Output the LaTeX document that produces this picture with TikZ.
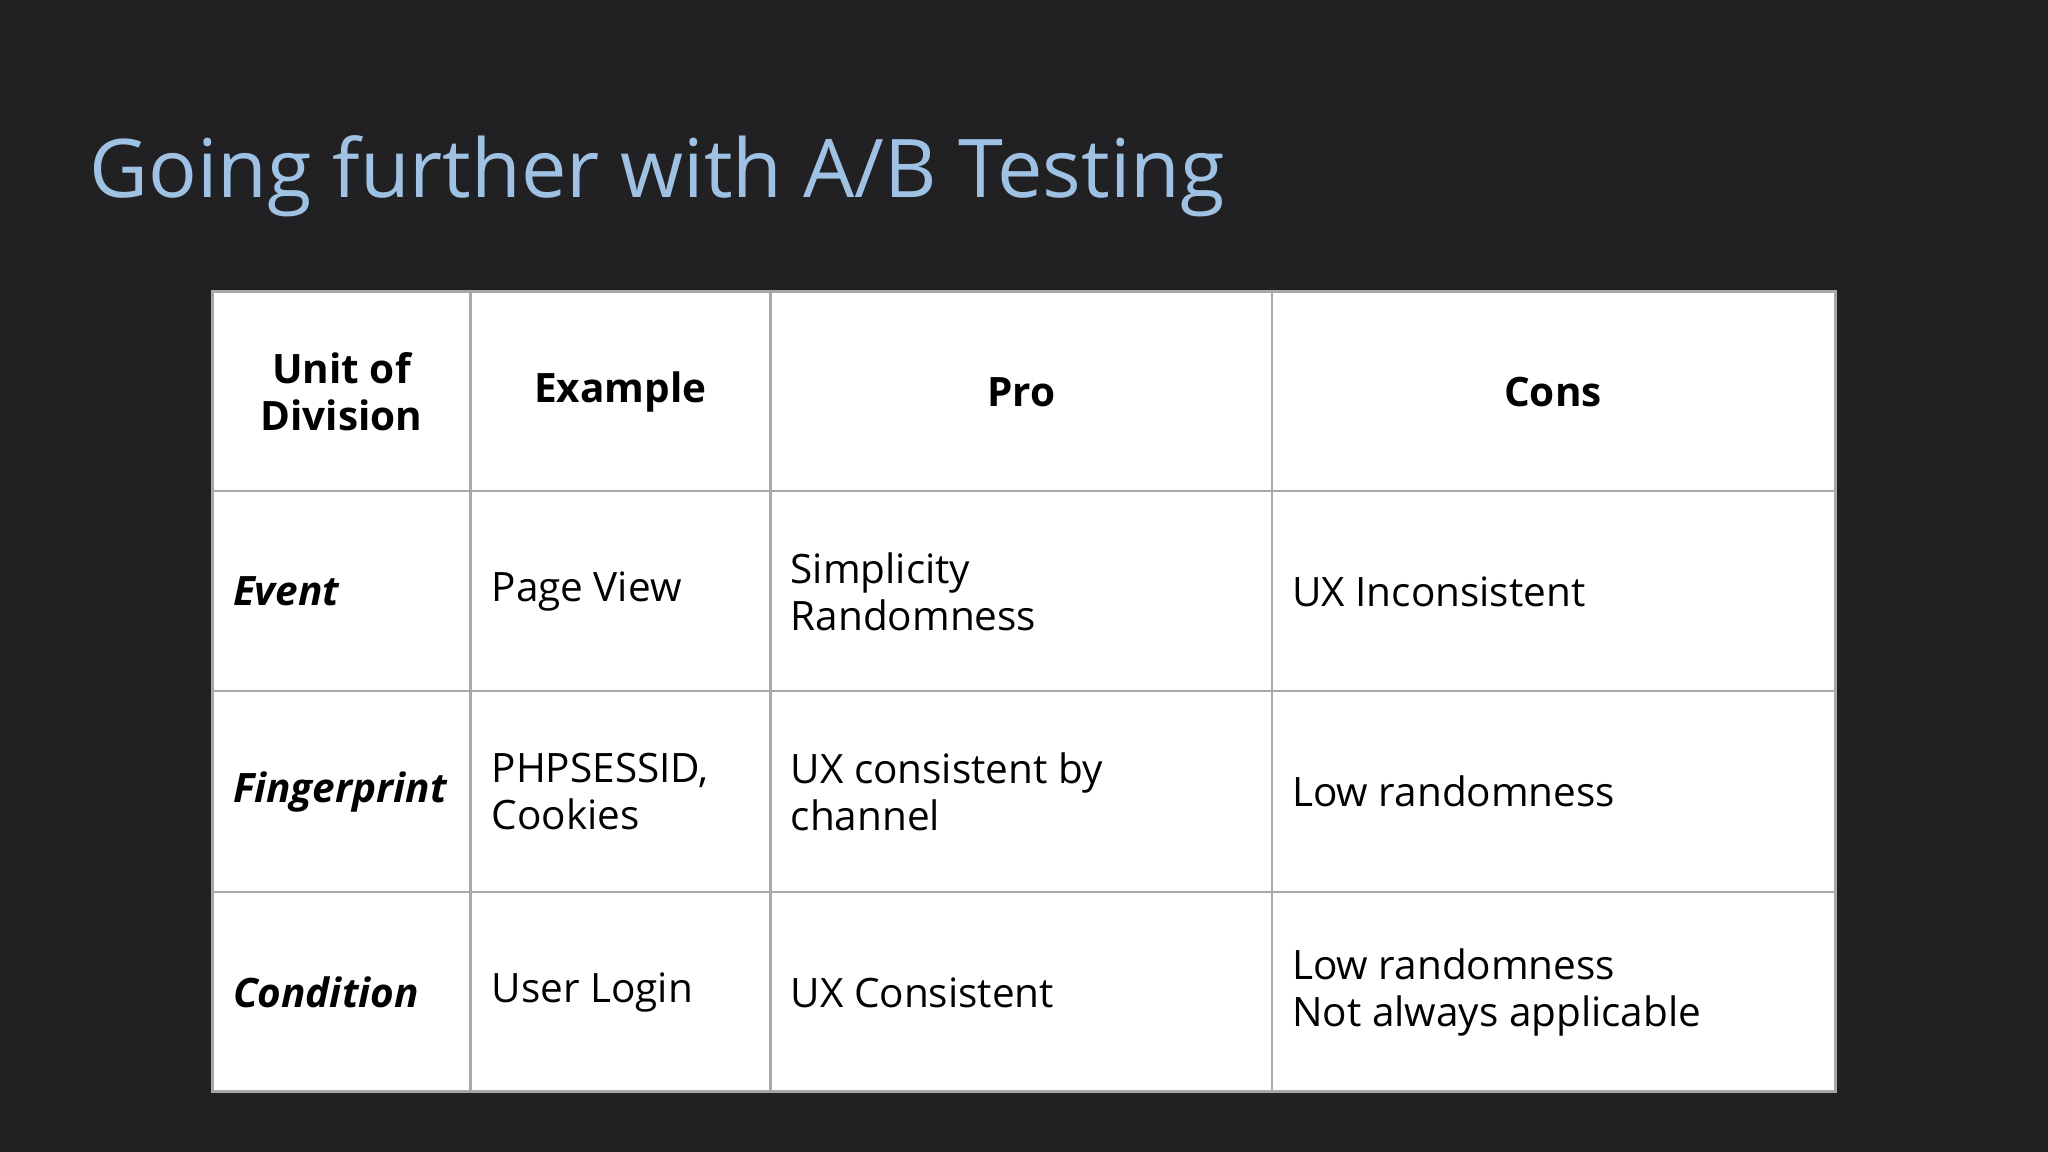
\documentclass[tikz,border=0pt]{standalone}
\usepackage{fontspec}
\setmainfont{Open Sans}
\definecolor{bg}{HTML}{212123}
\definecolor{ttl}{HTML}{9FC2E4}
\definecolor{grid}{HTML}{A8A8A8}
\begin{document}
\begin{tikzpicture}[x=0.5pt,y=-0.5pt,
  cell/.style={anchor=west,align=left,font=\fontsize{15.5}{18}\selectfont,text=black,inner sep=0},
  head/.style={anchor=center,align=center,font=\fontsize{15.5}{18}\selectfont\bfseries,text=black,inner sep=0},
  rowh/.style={anchor=west,font=\fontsize{15.5}{18}\selectfont\bfseries\itshape,text=black,inner sep=0}]
\fill[bg] (0,0) rectangle (1568,882);
\useasboundingbox (0,0) rectangle (1568,882);
\node[anchor=base west,text=ttl,font=\fontsize{31}{36}\selectfont,inner sep=0] (title) at (68,151) {Going further with A/B Testing};
\fill[white] (163,223) rectangle (1405,836);
\draw[grid,line width=1.2pt] (163,223) rectangle (1405,836);
\foreach \x in {360,590,974} \draw[grid,line width=1pt] (\x,223) -- (\x,836);
\foreach \y in {376,529,683} \draw[grid,line width=1pt] (163,\y) -- (1405,\y);
\node[head] (h1) at (261.5,300) {Unit of\\Division};
\node[head] (h2) at (475,300) {Example};
\node[head] (h3) at (782,300) {Pro};
\node[head] (h4) at (1189,300) {Cons};
\node[rowh] (r1) at (178,453) {Event};
\node[rowh] (r2) at (178,606) {Fingerprint};
\node[rowh] (r3) at (178,760) {Condition};
\node[cell] (e1) at (376,453) {Page View};
\node[cell] (e2) at (376,606) {PHPSESSID,\\Cookies};
\node[cell] (e3) at (376,760) {User Login};
\node[cell] (p1) at (605,453) {Simplicity\\Randomness};
\node[cell] (p2) at (605,606) {UX consistent by\\channel};
\node[cell] (p3) at (605,760) {UX Consistent};
\node[cell] (c1) at (989,453) {UX Inconsistent};
\node[cell] (c2) at (989,606) {Low randomness};
\node[cell] (c3) at (989,760) {Low randomness\\Not always applicable};
\end{tikzpicture}
\end{document}
